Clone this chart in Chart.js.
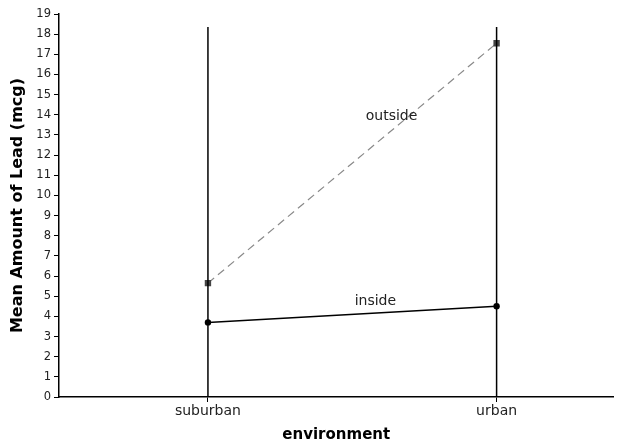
<!DOCTYPE html>
<html>
<head>
<meta charset="utf-8">
<script src="https://cdn.jsdelivr.net/npm/chart.js@4"></script>
<style>
  html, body { margin: 0; padding: 0; background: #fff; }
  #wrap { width: 618px; height: 444px; }
</style>
</head>
<body>
<div id="wrap"><canvas id="leadChart"></canvas></div>
<script>
// data
const environments = ["suburban", "urban"];
const envPositions = [1, 2];
const outsideLead = [5.65, 17.55];
const insideLead = [3.7, 4.5];
const dividerTop = [18.35, 18.35];
const yTicks = [0, 1, 2, 3, 4, 5, 6, 7, 8, 9, 10, 11, 12, 13, 14, 15, 16, 17, 18, 19];

// series name labels placed on the plot
const seriesLabels = [
    { text: "outside", x: 1.636, y: 13.9 },
    { text: "inside", x: 1.58, y: 4.75 }
];

const tickFont = { family: "DejaVu Sans", size: 11.5 };

const pts = (xs, ys) => xs.map((x, i) => ({ x: x, y: ys[i] }));

const seriesLabelPlugin = {
    id: "seriesLabels",
    afterDatasetsDraw(chart) {
        const { ctx, scales } = chart;
        ctx.save();
        ctx.font = "14px 'DejaVu Sans'";
        ctx.fillStyle = "#222";
        ctx.textAlign = "center";
        ctx.textBaseline = "middle";
        seriesLabels.forEach(l => {
            ctx.fillText(l.text, scales.x.getPixelForValue(l.x), scales.y.getPixelForValue(l.y));
        });
        ctx.restore();
    }
};

const datasets = [
    // vertical reference lines at each environment
    ...envPositions.map((p, i) => ({
        data: [{ x: p, y: 0 }, { x: p, y: dividerTop[i] }],
        borderColor: "#000",
        borderWidth: 1.5,
        pointRadius: 0
    })),
    {
        label: "outside",
        data: pts(envPositions, outsideLead),
        borderColor: "#8a8a8a",
        borderWidth: 1.2,
        borderDash: [8, 5],
        pointStyle: "rect",
        pointRadius: 4.5,
        pointBackgroundColor: "#444",
        pointBorderColor: "#444",
        pointBorderWidth: 0
    },
    {
        label: "inside",
        data: pts(envPositions, insideLead),
        borderColor: "#000",
        borderWidth: 1.5,
        pointStyle: "circle",
        pointRadius: 3.2,
        pointBackgroundColor: "#000",
        pointBorderColor: "#000",
        pointBorderWidth: 0
    }
];

new Chart(document.getElementById("leadChart").getContext("2d"), {
    type: "line",
    data: { datasets: datasets },
    options: {
        responsive: true,
        maintainAspectRatio: false,
        animation: false,
        layout: { padding: { top: 14, right: 4, left: 0, bottom: 0 } },
        plugins: { legend: { display: false }, tooltip: { enabled: false } },
        scales: {
            x: {
                type: "linear",
                min: 0.484,
                max: 2.405,
                afterBuildTicks: s => { s.ticks = envPositions.map(v => ({ value: v })); },
                afterFit: s => { s.height = 47; },
                ticks: {
                    color: "#222",
                    font: { family: "DejaVu Sans", size: 14 },
                    padding: 1,
                    callback: v => environments[envPositions.indexOf(v)]
                },
                grid: { drawOnChartArea: false, tickLength: 5, color: "#000" },
                border: { color: "#000", width: 1.5 },
                title: {
                    display: true,
                    text: "environment",
                    color: "#000",
                    font: { family: "DejaVu Sans", size: 15, weight: "bold" },
                    padding: { top: 0, bottom: 0 }
                }
            },
            y: {
                min: 0,
                max: 19,
                afterBuildTicks: s => { s.ticks = yTicks.map(v => ({ value: v })); },
                afterFit: s => { s.width = 59; },
                ticks: { color: "#222", font: tickFont, padding: 3 },
                grid: { drawOnChartArea: false, tickLength: 5, color: "#000" },
                border: { color: "#000", width: 1.5 },
                title: {
                    display: true,
                    text: "Mean Amount of Lead (mcg)",
                    color: "#000",
                    font: { family: "DejaVu Sans", size: 16, weight: "bold" },
                    padding: { top: 8, bottom: 0 }
                }
            }
        }
    },
    plugins: [seriesLabelPlugin]
});
</script>
</body>
</html>
